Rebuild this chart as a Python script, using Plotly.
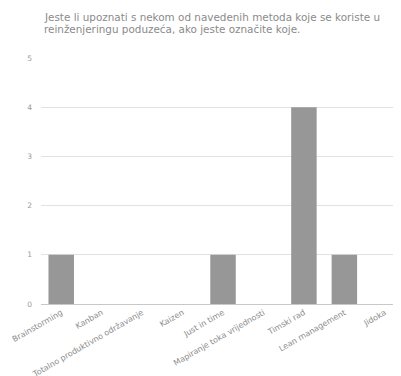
import plotly.graph_objects as go

categories = ["Brainstorming", "Kanban", "Totalno produktivno održavanje", "Kaizen",
              "Just in time", "Mapiranje toka vrijednosti", "Timski rad",
              "Lean management", "Jidoka"]
values = [1, 0, 0, 0, 1, 0, 4, 1, 0]
y_ticks = [0, 1, 2, 3, 4, 5]
title_lines = ["Jeste li upoznati s nekom od navedenih metoda koje se koriste u",
               "reinženjeringu poduzeća, ako jeste označite koje."]

FONT = "DejaVu Sans, Liberation Sans, sans-serif"

fig = go.Figure(go.Bar(x=list(range(len(categories))), y=values,
                       marker=dict(color="#979797", line=dict(width=0)),
                       width=0.63))

# page body has an 8px margin, so the figure is sized 393x368
fig.update_layout(
    width=393, height=368,
    margin=dict(l=33, r=0, t=50, b=72, autoexpand=False),
    plot_bgcolor="white", paper_bgcolor="white",
    font=dict(family=FONT, color="#8a8a8a"),
    showlegend=False,
)
fig.update_xaxes(
    tickmode="array", tickvals=list(range(len(categories))), ticktext=categories,
    tickangle=-30, tickfont=dict(size=8, color="#8a8a8a"),
    ticklabeloverflow="allow",
    range=[-0.5, 8.4], showgrid=False, showline=True, linecolor="#c8c8c8",
    linewidth=1, ticks="", zeroline=False, automargin=False,
)
fig.update_yaxes(
    range=[0, 5], tickvals=y_ticks, showgrid=True, gridcolor="#e2e2e2",
    gridwidth=1, zeroline=False, tickfont=dict(size=7.5, color="#9a9a9a"),
    ticks="", ticklabelstandoff=8, automargin=False,
)
for i, line in enumerate(title_lines):
    fig.add_annotation(text=line, xref="paper", yref="paper", x=0.003, y=1,
                       yshift=41 - i * 12, xanchor="left", yanchor="middle",
                       showarrow=False, font=dict(size=10.4, color="#8a8a8a"))

fig.write_html("out.html")
